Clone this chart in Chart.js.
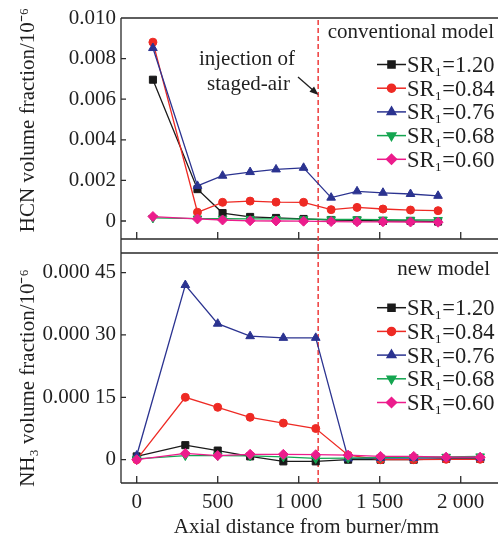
<!DOCTYPE html>
<html>
<head>
<meta charset="utf-8">
<script src="https://cdn.jsdelivr.net/npm/chart.js@4.4.1/dist/chart.umd.min.js"></script>
<style>
  body { margin: 0; background: #fff; }
  #wrap { position: relative; width: 498px; height: 540px; }
  canvas { position: absolute; left: 0; }
  #hcnChart { top: 0; }
  #nh3Chart { top: 246px; }
</style>
</head>
<body>
<div id="wrap">
  <canvas id="hcnChart" width="498" height="246"></canvas>
  <canvas id="nh3Chart" width="498" height="294"></canvas>
</div>
<script>
// series shared by both panels
const seriesLabels = ['SR\u2081=1.20', 'SR\u2081=0.84', 'SR\u2081=0.76', 'SR\u2081=0.68', 'SR\u2081=0.60'];
const seriesColors = ['#1a1a1a', '#ee2a24', '#2b3390', '#14a550', '#ec1c8c'];

// top panel: HCN (conventional model)
const hcnDistance = [100, 375, 530, 700, 860, 1030, 1200, 1360, 1520, 1690, 1860];
const hcnSR120 = [0.00696, 0.00157, 0.00039, 0.00020, 0.00015, 0.00010, 0.00005, 0.00003, 0.00000, 0.00000, -0.00003];
const hcnSR084 = [0.00881, 0.00043, 0.00092, 0.00098, 0.00093, 0.00092, 0.00056, 0.00067, 0.00059, 0.00054, 0.00051];
const hcnSR076 = [0.00852, 0.00173, 0.00223, 0.00241, 0.00254, 0.00262, 0.00115, 0.00146, 0.00139, 0.00133, 0.00124];
const hcnSR068 = [0.00015, 0.00012, 0.00011, 0.00010, 0.00010, 0.00009, 0.00008, 0.00008, 0.00007, 0.00006, 0.00005];
const hcnSR060 = [0.00022, 0.00010, 0.00005, 0.00001, 0.00000, -0.00001, -0.00003, -0.00004, -0.00004, -0.00005, -0.00006];

// bottom panel: NH3 (new model)
const nh3Distance = [0, 300, 500, 700, 905, 1105, 1305, 1505, 1710, 1910, 2120];
const nh3SR120 = [0.000008, 0.000035, 0.000022, 0.000008, -0.000004, -0.000004, 0.000000, 0.000000, 0.000000, 0.000002, 0.000002];
const nh3SR084 = [0.000000, 0.000150, 0.000126, 0.000102, 0.000088, 0.000075, 0.000011, 0.000000, 0.000000, 0.000001, 0.000001];
const nh3SR076 = [0.000010, 0.000420, 0.000327, 0.000297, 0.000293, 0.000293, 0.000003, 0.000004, 0.000004, 0.000005, 0.000005];
const nh3SR068 = [0.000002, 0.000010, 0.000010, 0.000009, 0.000007, 0.000003, 0.000004, 0.000005, 0.000006, 0.000007, 0.000008];
const nh3SR060 = [0.000000, 0.000015, 0.000010, 0.000013, 0.000013, 0.000012, 0.000011, 0.000008, 0.000008, 0.000006, 0.000006];

const injectionDistance = 1120;

const xTickValues = [0, 500, 1000, 1500, 2000];
const xTickLabels = ['0', '500', '1 000', '1 500', '2 000'];
const hcnTickValues = [0, 0.002, 0.004, 0.006, 0.008, 0.010];
const hcnTickLabels = ['0', '0.002', '0.004', '0.006', '0.008', '0.010'];
const nh3TickValues = [0, 0.00015, 0.00030, 0.00045];
const nh3TickLabels = ['0', '0.000 15', '0.000 30', '0.000 45'];

const FONT = '"Liberation Serif", "Times New Roman", serif';
const INK = '#1f1f1f';
const markers = [
  { style: 'rect', radius: 5, rotation: 0 },
  { style: 'circle', radius: 4, rotation: 0 },
  { style: 'triangle', radius: 5, rotation: 0 },
  { style: 'triangle', radius: 5, rotation: 180 },
  { style: 'rectRot', radius: 5, rotation: 0 }
];

function makeSets(xs, series) {
  return series.map((vals, i) => ({
    label: seriesLabels[i],
    data: xs.map((x, k) => ({ x: x, y: vals[k] })),
    borderColor: seriesColors[i],
    backgroundColor: seriesColors[i],
    borderWidth: 1.3,
    pointStyle: markers[i].style,
    pointRadius: markers[i].radius,
    pointRotation: markers[i].rotation,
    pointBorderWidth: 1,
    tension: 0,
    order: 5 - i
  }));
}

function drawLegend(ctx, y0) {
  ctx.save();
  for (let i = 0; i < seriesLabels.length; i++) {
    const y = y0 + i * 23.7;
    ctx.strokeStyle = seriesColors[i];
    ctx.fillStyle = seriesColors[i];
    ctx.lineWidth = 1.5;
    ctx.beginPath();
    ctx.moveTo(377, y);
    ctx.lineTo(406, y);
    ctx.stroke();
    Chart.helpers.drawPoint(ctx, {
      pointStyle: markers[i].style, radius: markers[i].radius,
      rotation: markers[i].rotation, borderWidth: 1
    }, 391.5, y);
    ctx.fillStyle = INK;
    ctx.font = '22.5px ' + FONT;
    ctx.textAlign = 'left';
    ctx.textBaseline = 'alphabetic';
    ctx.fillText(seriesLabels[i], 407, y + 7.5);
  }
  ctx.restore();
}

function panelPlugin(isTop) {
  return {
    id: isTop ? 'hcnPanel' : 'nh3Panel',
    beforeDatasetsDraw(chart) {
      const { ctx, chartArea: a, scales: { x, y } } = chart;
      const W = chart.width, H = chart.height;
      ctx.save();
      ctx.strokeStyle = '#2a2a2a';
      ctx.lineWidth = 1.3;
      ctx.beginPath();
      ctx.moveTo(a.left, a.top); ctx.lineTo(W, a.top);
      ctx.moveTo(a.left, a.bottom); ctx.lineTo(W, a.bottom);
      ctx.moveTo(a.left, isTop ? a.top : 0); ctx.lineTo(a.left, isTop ? H : a.bottom);
      y.ticks.forEach(t => {
        const py = y.getPixelForValue(t.value);
        ctx.moveTo(a.left, py); ctx.lineTo(a.left + 5, py);
      });
      x.ticks.forEach(t => {
        const px = x.getPixelForValue(t.value);
        ctx.moveTo(px, a.bottom); ctx.lineTo(px, a.bottom - 7);
      });
      ctx.stroke();
      // staged-air injection line
      const ix = x.getPixelForValue(injectionDistance);
      ctx.strokeStyle = '#ee3b3b';
      ctx.lineWidth = 1.5;
      ctx.setLineDash([5, 3]);
      ctx.beginPath();
      ctx.moveTo(ix, isTop ? a.top + 2 : 0);
      ctx.lineTo(ix, isTop ? H : a.bottom);
      ctx.stroke();
      ctx.restore();
    },
    afterDraw(chart) {
      const ctx = chart.ctx;
      ctx.save();
      ctx.fillStyle = INK;
      ctx.font = '21px ' + FONT;
      // y axis title
      ctx.save();
      ctx.translate(28, isTop ? 120 : 132);
      ctx.rotate(-Math.PI / 2);
      ctx.textAlign = 'center';
      ctx.textBaseline = 'middle';
      ctx.fillText(isTop ? 'HCN volume fraction/10\u207B\u2076' : 'NH\u2083 volume fraction/10\u207B\u2076', 0, 0);
      ctx.restore();
      ctx.textBaseline = 'alphabetic';
      if (isTop) {
        ctx.textAlign = 'right';
        ctx.fillText('conventional model', 494, 38);
        ctx.textAlign = 'center';
        ctx.fillText('injection of', 247, 64.5);
        ctx.fillText('staged-air', 248.5, 90);
        // arrow
        const x0 = 298, y0 = 77, x1 = 318.5, y1 = 95;
        const ang = Math.atan2(y1 - y0, x1 - x0);
        ctx.strokeStyle = INK;
        ctx.lineWidth = 1.3;
        ctx.beginPath();
        ctx.moveTo(x0, y0);
        ctx.lineTo(x1 - 6 * Math.cos(ang), y1 - 6 * Math.sin(ang));
        ctx.stroke();
        ctx.beginPath();
        ctx.moveTo(x1, y1);
        ctx.lineTo(x1 - 9 * Math.cos(ang) + 3.5 * Math.sin(ang), y1 - 9 * Math.sin(ang) - 3.5 * Math.cos(ang));
        ctx.lineTo(x1 - 9 * Math.cos(ang) - 3.5 * Math.sin(ang), y1 - 9 * Math.sin(ang) + 3.5 * Math.cos(ang));
        ctx.closePath();
        ctx.fill();
        drawLegend(ctx, 64.5);
      } else {
        ctx.textAlign = 'right';
        ctx.fillText('new model', 490, 28.5);
        drawLegend(ctx, 61.7);
      }
      ctx.restore();
    }
  };
}

function yScale(min, max, values, labels) {
  return {
    type: 'linear', min: min, max: max,
    grid: { display: false, drawTicks: false },
    border: { display: false },
    ticks: {
      display: true, padding: 5, color: INK,
      font: { family: FONT, size: 21 },
      callback: (v, i) => labels[i]
    },
    afterBuildTicks: s => { s.ticks = values.map(v => ({ value: v })); },
    afterFit: s => { s.width = 121; s.paddingTop = 0; s.paddingBottom = 0; }
  };
}

function makeChart(id, xs, series, yOpts, isTop) {
  return new Chart(document.getElementById(id), {
    type: 'line',
    data: { datasets: makeSets(xs, series) },
    options: {
      responsive: false,
      animation: false,
      devicePixelRatio: 1,
      layout: { padding: isTop ? { top: 18, bottom: 7, left: 0, right: 0 } : { top: 7, bottom: 0, left: 0, right: 0 } },
      plugins: { legend: { display: false }, tooltip: { enabled: false } },
      scales: {
        x: {
          type: 'linear', min: -97, max: 2193,
          display: !isTop,
          grid: { display: false, drawTicks: false },
          border: { display: false },
          ticks: {
            padding: 7, color: INK, maxRotation: 0, autoSkip: false,
            font: { family: FONT, size: 21 },
            callback: (v, i) => xTickLabels[i]
          },
          title: {
            display: !isTop, text: 'Axial distance from burner/mm', color: INK,
            font: { family: FONT, size: 21 }, padding: { top: 0, bottom: 0 }
          },
          afterBuildTicks: s => { s.ticks = xTickValues.map(v => ({ value: v })); },
          afterFit: s => { if (!isTop) { s.height = 57; } s.paddingLeft = 0; s.paddingRight = 0; }
        },
        y: yOpts
      }
    },
    plugins: [panelPlugin(isTop)]
  });
}

makeChart('hcnChart', hcnDistance, [hcnSR120, hcnSR084, hcnSR076, hcnSR068, hcnSR060],
  yScale(-0.000887, 0.010, hcnTickValues, hcnTickLabels), true);
makeChart('nh3Chart', nh3Distance, [nh3SR120, nh3SR084, nh3SR076, nh3SR068, nh3SR060],
  yScale(-0.000056, 0.000497, nh3TickValues, nh3TickLabels), false);
</script>
</body>
</html>
